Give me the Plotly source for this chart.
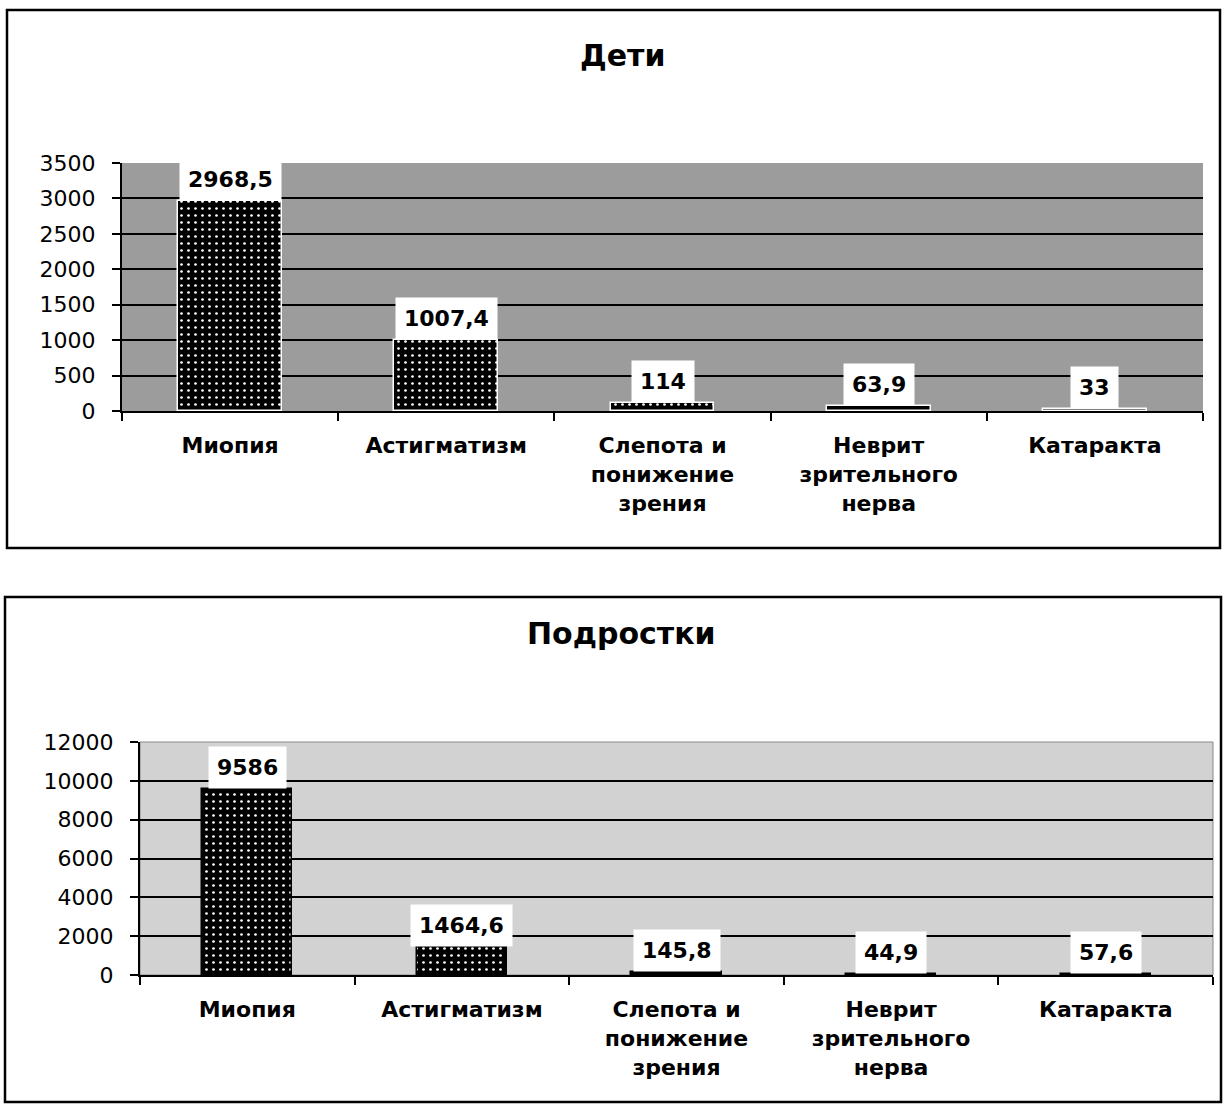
import plotly.graph_objects as go

categories = ["Миопия", "Астигматизм", "Слепота и<br>понижение<br>зрения",
              "Неврит<br>зрительного<br>нерва", "Катаракта"]
children_values = [2968.5, 1007.4, 114, 63.9, 33]
teens_values = [9586, 1464.6, 145.8, 44.9, 57.6]
children_labels = ["2968,5", "1007,4", "114", "63,9", "33"]
teens_labels = ["9586", "1464,6", "145,8", "44,9", "57,6"]
children_ticks = [0, 500, 1000, 1500, 2000, 2500, 3000, 3500]
teens_ticks = [0, 2000, 4000, 6000, 8000, 10000, 12000]
titles = ["Дети", "Подростки"]

W, H = 1223, 1104
def px(x): return x / W
def py(y): return 1 - y / H

FONT = "DejaVu Sans"
fig = go.Figure()

pattern = dict(shape=".", fgcolor="white", bgcolor="black", size=7, solidity=0.12, fillmode="replace")

fig.add_trace(go.Bar(x=categories, y=children_values, width=0.48,
                     marker=dict(color="black", pattern=pattern, line=dict(color="white", width=1.5)),
                     xaxis="x", yaxis="y", hoverinfo="skip", showlegend=False))
fig.add_trace(go.Bar(x=categories, y=teens_values, width=0.42,
                     marker=dict(color="black", pattern=pattern, line=dict(color="black", width=1.5)),
                     xaxis="x2", yaxis="y2", hoverinfo="skip", showlegend=False))

xcommon = dict(type="category", showgrid=False, showline=True, linecolor="black", linewidth=2,
               ticks="outside", ticklen=8, tickwidth=2, tickcolor="black", tickson="boundaries",
               tickfont=dict(family=FONT, size=22, color="black", weight="bold"),
               ticklabelstandoff=14, fixedrange=True, automargin=False)
ycommon = dict(showgrid=True, gridcolor="black", gridwidth=2, showline=True, linecolor="black",
               linewidth=2, ticks="outside", ticklen=8, tickwidth=2, tickcolor="black",
               tickfont=dict(family=FONT, size=22, color="black"), ticklabelstandoff=12,
               tickformat="d", zeroline=False, fixedrange=True, automargin=False)

fig.update_layout(
    width=W, height=H, margin=dict(l=0, r=0, t=0, b=0, pad=0, autoexpand=False),
    paper_bgcolor="white", plot_bgcolor="rgba(0,0,0,0)",
    bargap=0, showlegend=False,
    xaxis=dict(xcommon, domain=[px(122), px(1203)], anchor="y"),
    yaxis=dict(ycommon, domain=[py(411), py(163)], range=[0, 3500], tickvals=children_ticks, anchor="x"),
    xaxis2=dict(xcommon, domain=[px(140), px(1213)], anchor="y2"),
    yaxis2=dict(ycommon, domain=[py(975), py(742)], range=[0, 12000], tickvals=teens_ticks, anchor="x2"),
)

shapes = [
    dict(type="rect", xref="x domain", yref="y domain", x0=0, x1=1, y0=0, y1=1,
         fillcolor="#9c9c9c", line=dict(width=0), layer="below"),
    dict(type="rect", xref="x2 domain", yref="y2 domain", x0=0, x1=1, y0=0, y1=1,
         fillcolor="#d2d2d2", line=dict(color="#888888", width=1), layer="below"),
    dict(type="rect", xref="paper", yref="paper", x0=px(7), x1=px(1220), y0=py(548), y1=py(10),
         line=dict(color="black", width=2.5), fillcolor="rgba(0,0,0,0)"),
    dict(type="rect", xref="paper", yref="paper", x0=px(5), x1=px(1221), y0=py(1102), y1=py(597),
         line=dict(color="black", width=2.5), fillcolor="rgba(0,0,0,0)"),
]
fig.update_layout(shapes=shapes)

annotations = []
for cat, v, t in zip(categories, children_values, children_labels):
    annotations.append(dict(x=cat, y=v, xref="x", yref="y", text=t, showarrow=False,
                            yanchor="bottom", bgcolor="white", borderpad=8,
                            font=dict(family=FONT, size=22, color="black", weight="bold")))
for cat, v, t in zip(categories, teens_values, teens_labels):
    annotations.append(dict(x=cat, y=v, xref="x2", yref="y2", text=t, showarrow=False,
                            yanchor="bottom", bgcolor="white", borderpad=8,
                            font=dict(family=FONT, size=22, color="black", weight="bold")))
annotations.append(dict(x=px(622), y=py(55), xref="paper", yref="paper", text=titles[0],
                        showarrow=False, xanchor="center", yanchor="middle",
                        font=dict(family=FONT, size=30, color="black", weight="bold")))
annotations.append(dict(x=px(621), y=py(633), xref="paper", yref="paper", text=titles[1],
                        showarrow=False, xanchor="center", yanchor="middle",
                        font=dict(family=FONT, size=30, color="black", weight="bold")))
fig.update_layout(annotations=annotations)

fig.write_html("out.html", config={"displayModeBar": False},
               post_script="document.body.style.margin='0';")
